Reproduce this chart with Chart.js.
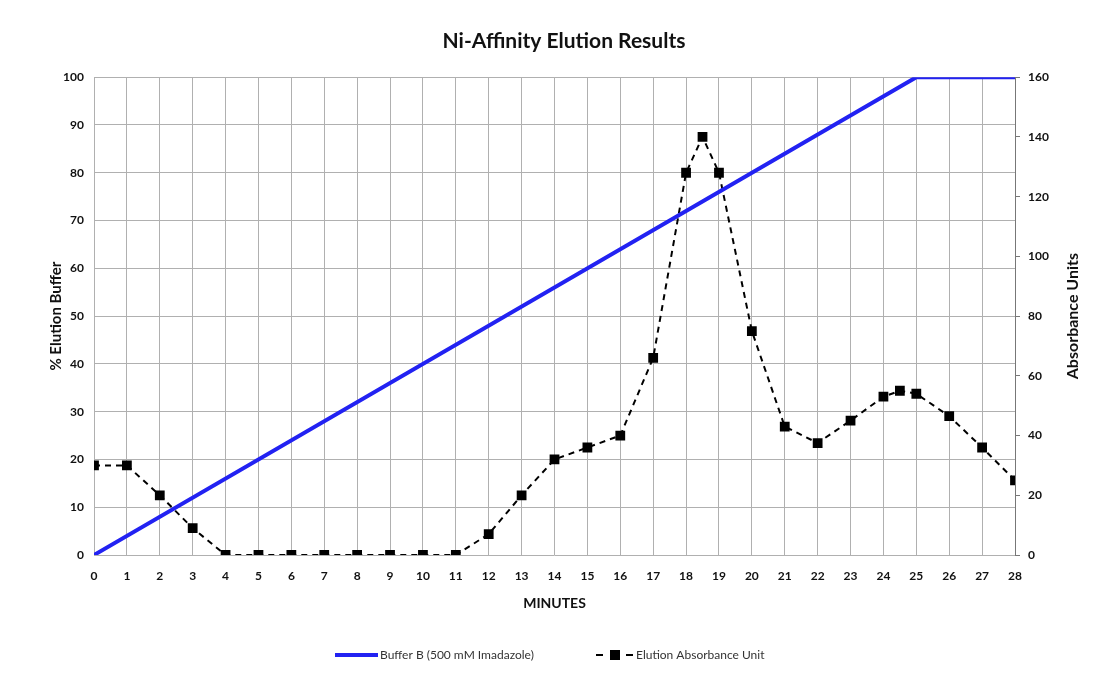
<!DOCTYPE html>
<html>
<head>
<meta charset="utf-8">
<script src="https://cdn.jsdelivr.net/npm/chart.js@4"></script>
<style>
  html, body { margin: 0; padding: 0; background: #fff; }
  #wrap { width: 1106px; height: 675px; }
</style>
</head>
<body>
<div id="wrap"><canvas id="elutionChart" width="1106" height="675"></canvas></div>
<script>
// minutes on the x axis
const minutes = [0, 1, 2, 3, 4, 5, 6, 7, 8, 9, 10, 11, 12, 13, 14, 15, 16, 17, 18, 18.5,
  19, 20, 21, 22, 23, 24, 24.5, 25, 26, 27, 28];
// absorbance units (right axis)
const absorbance = [30, 30, 20, 9, 0, 0, 0, 0, 0, 0, 0, 0, 7, 20, 32, 36, 40, 66, 128, 140,
  128, 75, 43, 37.5, 45, 53, 55, 54, 46.5, 36, 25];
// buffer B gradient (left axis)
const bufferMinutes = [0, 25, 28];
const bufferPercent = [0, 100, 100];

const blue = '#2222f2';
const fontFamily = 'Lato, "Open Sans", sans-serif';

const legendPlugin = {
  id: 'bottomLegend',
  afterDraw(chart) {
    const ctx = chart.ctx;
    const y = 655;
    ctx.save();
    ctx.font = '12px ' + fontFamily;
    ctx.fillStyle = '#333';
    ctx.textBaseline = 'middle';
    // blue line sample
    ctx.strokeStyle = blue;
    ctx.lineWidth = 4;
    ctx.beginPath();
    ctx.moveTo(335, y);
    ctx.lineTo(378, y);
    ctx.stroke();
    ctx.fillText('Buffer B (500 mM Imadazole)', 380, y);
    // dashed sample with square
    ctx.strokeStyle = '#000';
    ctx.lineWidth = 2;
    ctx.beginPath();
    ctx.moveTo(596, y); ctx.lineTo(603, y);
    ctx.moveTo(626, y); ctx.lineTo(633, y);
    ctx.stroke();
    ctx.fillStyle = '#000';
    ctx.fillRect(610, y - 5, 10, 10);
    ctx.fillStyle = '#333';
    ctx.fillText('Elution Absorbance Unit', 636, y);

    // right axis title, reading bottom to top
    const area = chart.chartArea;
    ctx.translate(1073, (area.top + area.bottom) / 2);
    ctx.rotate(-Math.PI / 2);
    ctx.font = 'bold 16px ' + fontFamily;
    ctx.fillStyle = '#111';
    ctx.textAlign = 'center';
    ctx.fillText('Absorbance Units', 0, 0);
    ctx.restore();
  }
};

const bgPlugin = {
  id: 'whiteBg',
  beforeDraw(chart) {
    const ctx = chart.ctx;
    ctx.save();
    ctx.fillStyle = '#fff';
    ctx.fillRect(0, 0, chart.width, chart.height);
    ctx.restore();
  }
};

const ctx = document.getElementById('elutionChart').getContext('2d');

const elutionChart = new Chart(ctx, {
  type: 'line',
  data: {
    datasets: [{
      label: 'Buffer B (500 mM Imadazole)',
      data: bufferMinutes.map((m, i) => ({ x: m, y: bufferPercent[i] })),
      borderColor: blue,
      borderWidth: 4,
      pointRadius: 0,
      tension: 0,
      fill: false,
      yAxisID: 'y'
    }, {
      label: 'Elution Absorbance Unit',
      data: minutes.map((m, i) => ({ x: m, y: absorbance[i] })),
      borderColor: '#000',
      backgroundColor: '#000',
      borderWidth: 2,
      borderDash: [6, 5],
      pointStyle: 'rect',
      pointRadius: 5.5,
      tension: 0,
      fill: false,
      yAxisID: 'y2'
    }]
  },
  options: {
    responsive: false,
    animation: false,
    layout: { padding: { left: 47, right: 25, top: 0, bottom: 58 } },
    plugins: {
      legend: { display: false },
      tooltip: { enabled: false },
      title: {
        display: true,
        text: 'Ni-Affinity Elution Results',
        color: '#111',
        font: { family: fontFamily, size: 21, weight: 'bold' },
        padding: { top: 29, bottom: 23 }
      }
    },
    scales: {
      x: {
        type: 'linear',
        min: 0,
        max: 28,
        afterFit: (scale) => { scale.height = 62; },
        ticks: {
          stepSize: 1,
          color: '#111',
          padding: 14,
          font: { family: fontFamily, size: 12, weight: 'bold' }
        },
        grid: { color: '#b0b0b0', drawTicks: false },
        border: { display: false },
        title: {
          display: true,
          text: 'MINUTES',
          color: '#111',
          font: { family: fontFamily, size: 14, weight: 'bold' },
          padding: { top: 10, bottom: 5 }
        }
      },
      y: {
        position: 'left',
        min: 0,
        max: 100,
        afterFit: (scale) => { scale.width = 47; },
        ticks: {
          stepSize: 10,
          color: '#111',
          padding: 10,
          font: { family: fontFamily, size: 12, weight: 'bold' }
        },
        grid: { color: '#b0b0b0', drawTicks: false },
        border: { display: false },
        title: {
          display: true,
          text: '% Elution Buffer',
          color: '#111',
          font: { family: fontFamily, size: 15, weight: 'bold' },
          padding: { top: 0, bottom: 6 }
        }
      },
      y2: {
        position: 'right',
        min: 0,
        max: 160,
        afterFit: (scale) => { scale.width = 66; },
        ticks: {
          stepSize: 20,
          color: '#111',
          padding: 8,
          font: { family: fontFamily, size: 12, weight: 'bold' }
        },
        grid: { drawOnChartArea: false, drawTicks: true, tickLength: 5, color: '#777' },
        border: { display: true, color: '#777', width: 1 },
        title: { display: false }
      }
    }
  },
  plugins: [bgPlugin, legendPlugin]
});
</script>
</body>
</html>
